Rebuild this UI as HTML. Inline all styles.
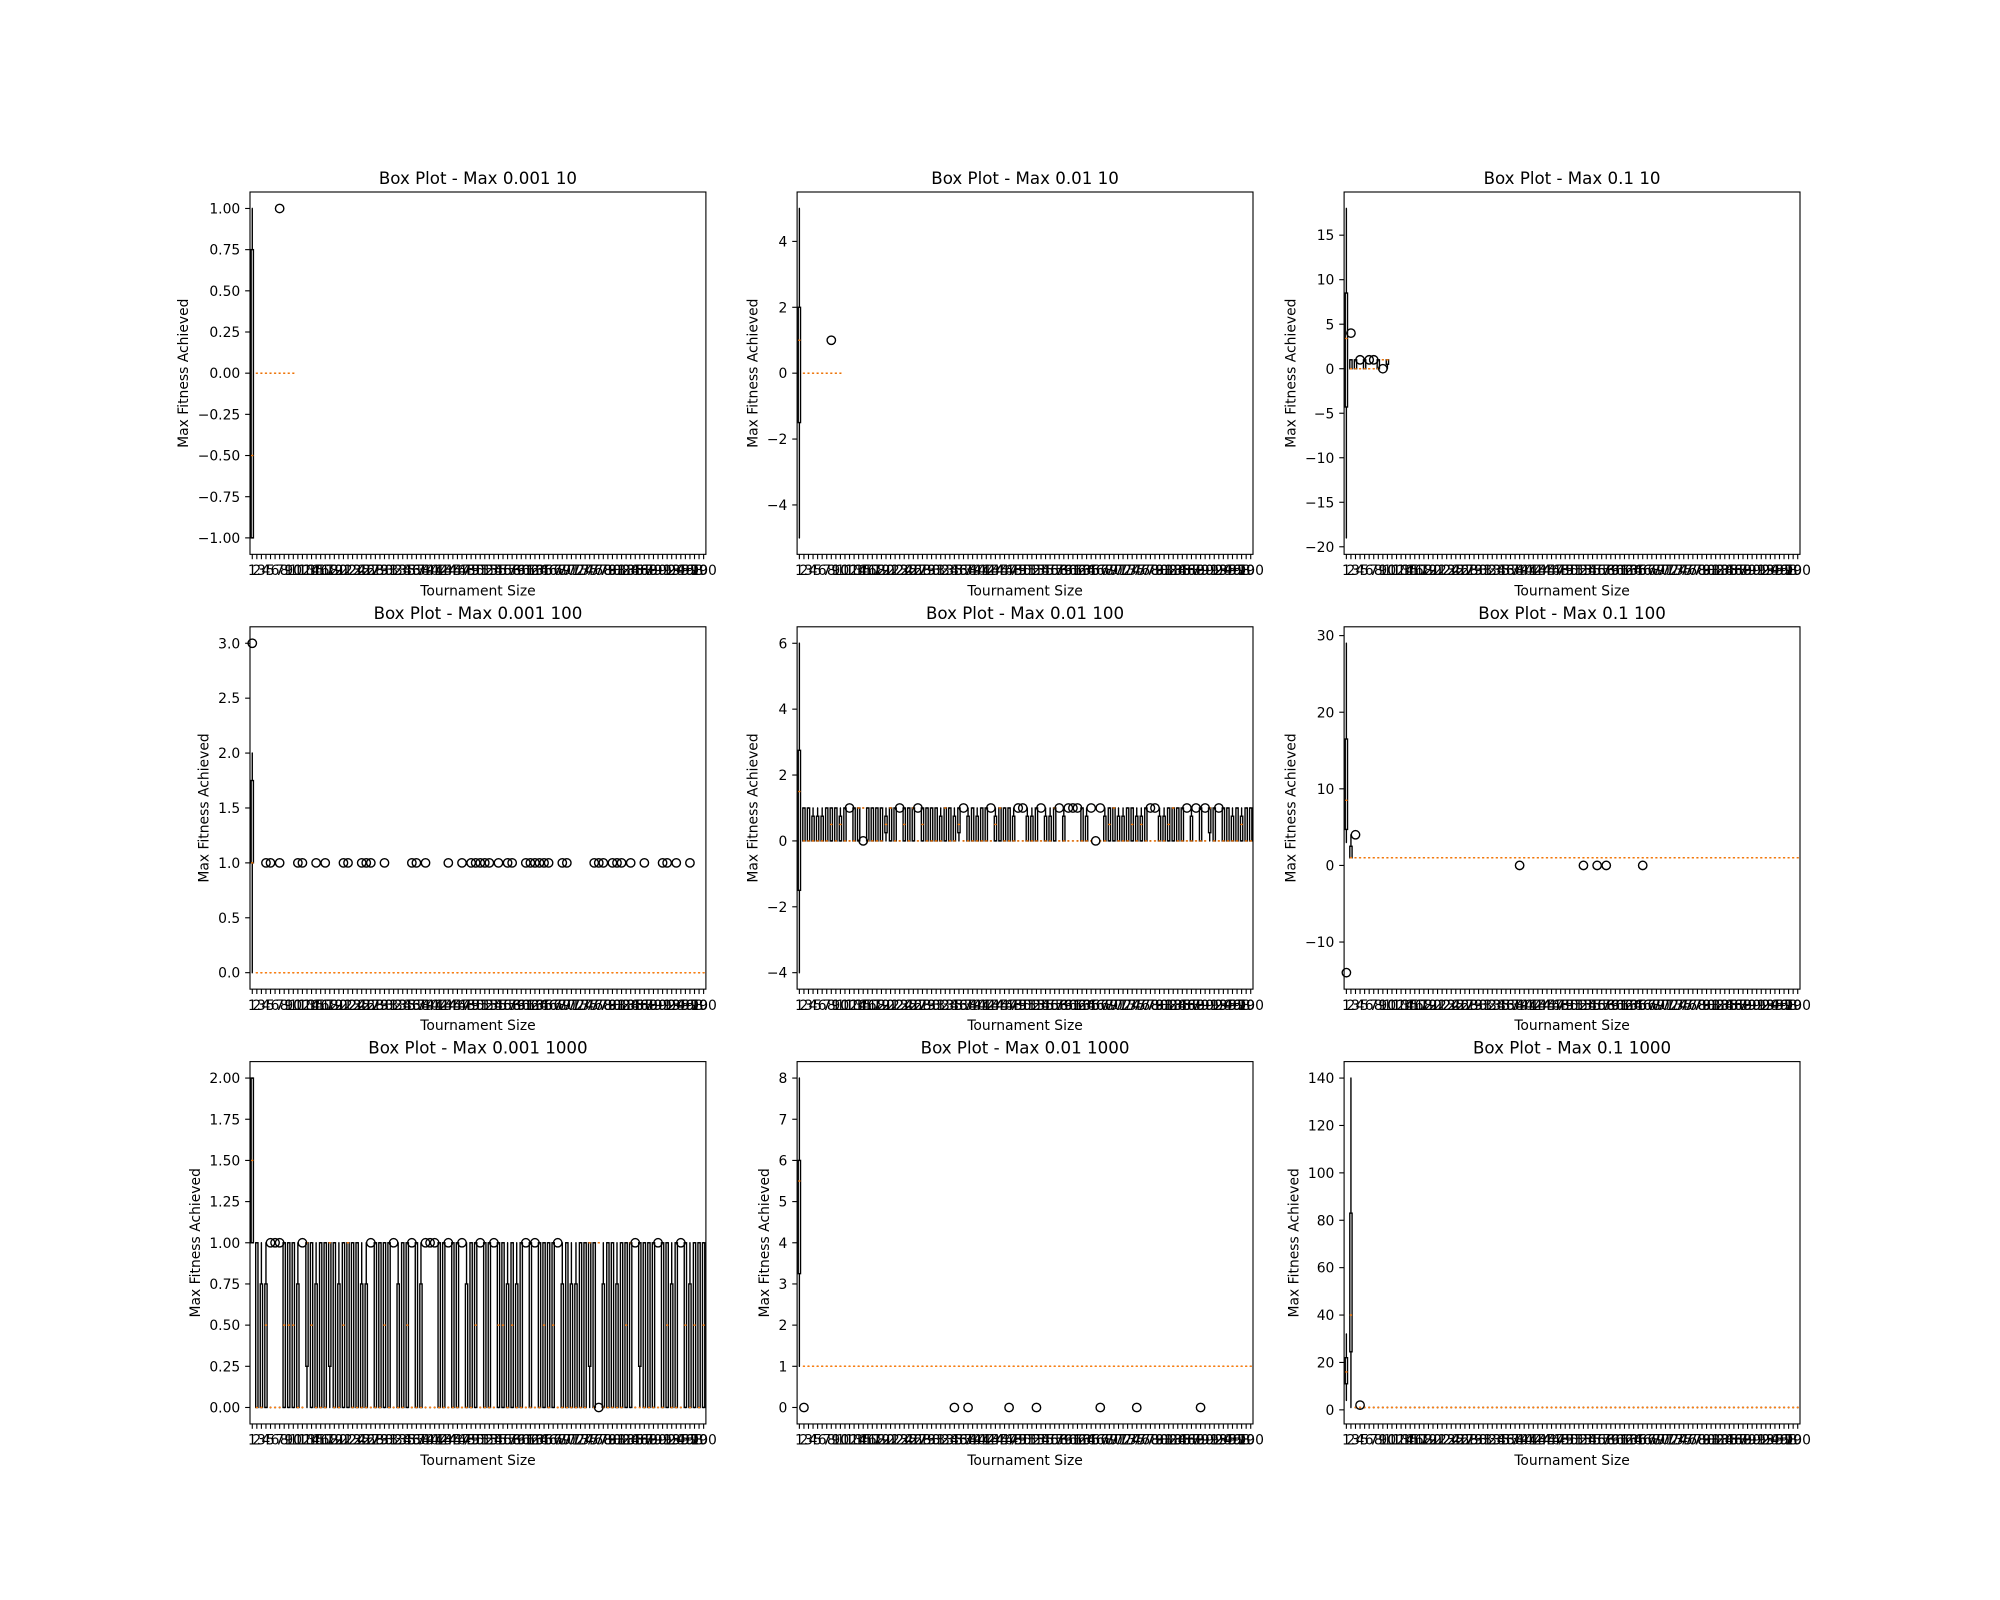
<!DOCTYPE html>
<html>
<head>
<meta charset="utf-8">
<style>
html,body{margin:0;padding:0;background:#fff;}
svg{display:block;}
text{font-family:"DejaVu Sans","Liberation Sans",sans-serif;fill:#000;}
</style>
</head>
<body>
<svg id="fig" width="2000" height="1600" viewBox="0 0 2000 1600" xmlns="http://www.w3.org/2000/svg">
<rect x="0" y="0" width="2000" height="1600" fill="#fff"/>
</svg>
<script>
// ---------- Panel 1: Max 0.001 10 ----------
const p1Lo  = [-1,0,0,0,0,0,0,0,0,0];
const p1Q1  = [-1,0,0,0,0,0,0,0,0,0];
const p1Med = [-0.5,0,0,0,0,0,0,0,0,0];
const p1Q3  = [0.75,0,0,0,0,0,0,0,0,0];
const p1Hi  = [1,0,0,0,0,0,0,0,0,0];
const p1FlierPos = [7];
const p1FlierVal = [1];
const p1Ticks = [-1,-0.75,-0.5,-0.25,0,0.25,0.5,0.75,1];
const p1TickLabels = ["\u22121.00","\u22120.75","\u22120.50","\u22120.25","0.00","0.25","0.50","0.75","1.00"];

// ---------- Panel 2: Max 0.01 10 ----------
const p2Lo  = [-5,0,0,0,0,0,0,0,0,0];
const p2Q1  = [-1.5,0,0,0,0,0,0,0,0,0];
const p2Med = [1,0,0,0,0,0,0,0,0,0];
const p2Q3  = [2,0,0,0,0,0,0,0,0,0];
const p2Hi  = [5,0,0,0,0,0,0,0,0,0];
const p2FlierPos = [8];
const p2FlierVal = [1];
const p2Ticks = [-4,-2,0,2,4];
const p2TickLabels = ["\u22124","\u22122","0","2","4"];

// ---------- Panel 3: Max 0.1 10 ----------
const p3Lo  = [-19,0,0,0,0,0,0,0,1,0];
const p3Q1  = [-4.3,0,0,0,0,0,0,0,1,0.5];
const p3Med = [3.4,0,0,0,0,0,0,0,1,1];
const p3Q3  = [8.5,1,1,0,1,0,0,1,1,1];
const p3Hi  = [18,1,1,0,1,0,0,1,1,1];
const p3FlierPos = [2,4,6,7,9];
const p3FlierVal = [4,1,1,1,0];
const p3Ticks = [-20,-15,-10,-5,0,5,10,15];
const p3TickLabels = ["\u221220","\u221215","\u221210","\u22125","0","5","10","15"];

// ---------- Panel 4: Max 0.001 100 ----------
const p4Lo  = [0,0,0,0,0,0,0,0,0,0, 0,0,0,0,0,0,0,0,0,0, 0,0,0,0,0,0,0,0,0,0, 0,0,0,0,0,0,0,0,0,0, 0,0,0,0,0,0,0,0,0,0,
               0,0,0,0,0,0,0,0,0,0, 0,0,0,0,0,0,0,0,0,0, 0,0,0,0,0,0,0,0,0,0, 0,0,0,0,0,0,0,0,0,0, 0,0,0,0,0,0,0,0,0,0];
const p4Q1  = [1,0,0,0,0,0,0,0,0,0, 0,0,0,0,0,0,0,0,0,0, 0,0,0,0,0,0,0,0,0,0, 0,0,0,0,0,0,0,0,0,0, 0,0,0,0,0,0,0,0,0,0,
               0,0,0,0,0,0,0,0,0,0, 0,0,0,0,0,0,0,0,0,0, 0,0,0,0,0,0,0,0,0,0, 0,0,0,0,0,0,0,0,0,0, 0,0,0,0,0,0,0,0,0,0];
const p4Med = [1,0,0,0,0,0,0,0,0,0, 0,0,0,0,0,0,0,0,0,0, 0,0,0,0,0,0,0,0,0,0, 0,0,0,0,0,0,0,0,0,0, 0,0,0,0,0,0,0,0,0,0,
               0,0,0,0,0,0,0,0,0,0, 0,0,0,0,0,0,0,0,0,0, 0,0,0,0,0,0,0,0,0,0, 0,0,0,0,0,0,0,0,0,0, 0,0,0,0,0,0,0,0,0,0];
const p4Q3  = [1.75,0,0,0,0,0,0,0,0,0, 0,0,0,0,0,0,0,0,0,0, 0,0,0,0,0,0,0,0,0,0, 0,0,0,0,0,0,0,0,0,0, 0,0,0,0,0,0,0,0,0,0,
               0,0,0,0,0,0,0,0,0,0, 0,0,0,0,0,0,0,0,0,0, 0,0,0,0,0,0,0,0,0,0, 0,0,0,0,0,0,0,0,0,0, 0,0,0,0,0,0,0,0,0,0];
const p4Hi  = [2,0,0,0,0,0,0,0,0,0, 0,0,0,0,0,0,0,0,0,0, 0,0,0,0,0,0,0,0,0,0, 0,0,0,0,0,0,0,0,0,0, 0,0,0,0,0,0,0,0,0,0,
               0,0,0,0,0,0,0,0,0,0, 0,0,0,0,0,0,0,0,0,0, 0,0,0,0,0,0,0,0,0,0, 0,0,0,0,0,0,0,0,0,0, 0,0,0,0,0,0,0,0,0,0];
const p4FlierPos = [1,4,5,7,11,12,15,17,21,22,25,26,27,30,36,37,39,44,47,49,50,51,52,53,55,57,58,61,62,63,64,65,66,69,70,76,77,78,80,81,82,84,87,91,92,94,97];
const p4FlierVal = [3,1,1,1,1,1,1,1,1,1,1,1,1,1,1,1,1,1,1,1,1,1,1,1,1,1,1,1,1,1,1,1,1,1,1,1,1,1,1,1,1,1,1,1,1,1,1];
const p4Ticks = [0,0.5,1,1.5,2,2.5,3];
const p4TickLabels = ["0.0","0.5","1.0","1.5","2.0","2.5","3.0"];

// ---------- Panel 5: Max 0.01 100 ----------
const p5Lo  = [-4,0,0,0,0,0,0,0,0,0, 0,0,0,0,1,0,0,0,0,0, 0,0,0,0,0,0,0,0,0,0, 0,0,0,0,0,0,0,0,0,0, 0,0,0,0,0,0,0,0,0,0,
               0,0,0,0,0,0,0,0,0,0, 0,0,0,0,0,1,0,0,0,0, 0,0,0,0,0,0,0,0,0,0, 0,0,0,0,0,0,0,0,0,0, 0,0,0,0,0,0,0,0,0,0];
const p5Q1  = [-1.5,0,0,0,0,0,0,0,0,0, 0,0,0,0,1,0,0,0,0,0.25, 0,0,0,0,0,0,0,0,0,0, 0,0,0,0,0,0.25,0,0,0,0, 0,0,0,0,0,0,0,0,0,0,
               0,0,0,0,0,0,0,0,0,0, 0,0,0,0,0,1,0,0,0,0, 0,0,0,0,0,0,0,0,0,0, 0,0,0,0,0,0,0,0,0,0, 0.25,0,0,0,0,0,0,0,0,0];
const p5Med = [1.5,0,0,0,0,0,0,0.5,0,0.5, 0,0,0,1,1,0,0,0,0,0.5, 1,0,0,0.5,0,1,0,0.5,0,0, 0,0,1,0,0,0.5,0,0,0,0, 0,0,0,0.5,1,0,0,0,0,0,
               0,0,0,0,0,0,1,0,0,0, 0,0,0,0,0,1,0,0,0.5,1, 0,0,0,0.5,0,0.5,0,0,0,0, 0,0.5,1,0,0,0,0,0,0,0, 1,0,0,0,0,0,0,0.5,0,0];
const p5Q3  = [2.75,1,1,0.75,0.75,0.75,1,1,1,0.75, 1,0,1,1,1,1,1,1,1,0.75, 1,1,0,1,1,1,0,1,1,1, 1,0.75,1,1,0.75,1,0,0.75,1,0.75, 1,1,0,0.75,1,1,1,0.75,0,0,
               0.75,0.75,1,0,0.75,0.75,1,0,0.75,0, 0,0,1,0.75,0,1,0,0.75,1,1, 0.75,0.75,1,1,0.75,0.75,1,0,0,0.75, 0.75,1,1,1,1,0,0.75,0,1,0, 1,1,0,1,1,0.75,1,0.75,1,1];
const p5Hi  = [6,1,1,1,1,1,1,1,1,1, 1,0,1,1,1,1,1,1,1,1, 1,1,0,1,1,1,0,1,1,1, 1,1,1,1,1,1,0,1,1,1, 1,1,0,1,1,1,1,1,0,0,
               1,1,1,0,1,1,1,0,1,0, 0,0,1,1,0,1,0,1,1,1, 1,1,1,1,1,1,1,0,0,1, 1,1,1,1,1,0,1,0,1,0, 1,1,0,1,1,1,1,1,1,1];
const p5FlierPos = [12,15,23,27,37,43,49,50,54,58,60,61,62,65,66,67,78,79,86,88,90,93];
const p5FlierVal = [1,0,1,1,1,1,1,1,1,1,1,1,1,1,0,1,1,1,1,1,1,1];
const p5Ticks = [-4,-2,0,2,4,6];
const p5TickLabels = ["\u22124","\u22122","0","2","4","6"];

// ---------- Panel 6: Max 0.1 100 ----------
const p6Lo  = [3,1,1,1,1,1,1,1,1,1, 1,1,1,1,1,1,1,1,1,1, 1,1,1,1,1,1,1,1,1,1, 1,1,1,1,1,1,1,1,1,1, 1,1,1,1,1,1,1,1,1,1,
               1,1,1,1,1,1,1,1,1,1, 1,1,1,1,1,1,1,1,1,1, 1,1,1,1,1,1,1,1,1,1, 1,1,1,1,1,1,1,1,1,1, 1,1,1,1,1,1,1,1,1,1];
const p6Q1  = [4.7,1,1,1,1,1,1,1,1,1, 1,1,1,1,1,1,1,1,1,1, 1,1,1,1,1,1,1,1,1,1, 1,1,1,1,1,1,1,1,1,1, 1,1,1,1,1,1,1,1,1,1,
               1,1,1,1,1,1,1,1,1,1, 1,1,1,1,1,1,1,1,1,1, 1,1,1,1,1,1,1,1,1,1, 1,1,1,1,1,1,1,1,1,1, 1,1,1,1,1,1,1,1,1,1];
const p6Med = [8.5,1,1,1,1,1,1,1,1,1, 1,1,1,1,1,1,1,1,1,1, 1,1,1,1,1,1,1,1,1,1, 1,1,1,1,1,1,1,1,1,1, 1,1,1,1,1,1,1,1,1,1,
               1,1,1,1,1,1,1,1,1,1, 1,1,1,1,1,1,1,1,1,1, 1,1,1,1,1,1,1,1,1,1, 1,1,1,1,1,1,1,1,1,1, 1,1,1,1,1,1,1,1,1,1];
const p6Q3  = [16.5,2.5,1,1,1,1,1,1,1,1, 1,1,1,1,1,1,1,1,1,1, 1,1,1,1,1,1,1,1,1,1, 1,1,1,1,1,1,1,1,1,1, 1,1,1,1,1,1,1,1,1,1,
               1,1,1,1,1,1,1,1,1,1, 1,1,1,1,1,1,1,1,1,1, 1,1,1,1,1,1,1,1,1,1, 1,1,1,1,1,1,1,1,1,1, 1,1,1,1,1,1,1,1,1,1];
const p6Hi  = [29,4,1,1,1,1,1,1,1,1, 1,1,1,1,1,1,1,1,1,1, 1,1,1,1,1,1,1,1,1,1, 1,1,1,1,1,1,1,1,1,1, 1,1,1,1,1,1,1,1,1,1,
               1,1,1,1,1,1,1,1,1,1, 1,1,1,1,1,1,1,1,1,1, 1,1,1,1,1,1,1,1,1,1, 1,1,1,1,1,1,1,1,1,1, 1,1,1,1,1,1,1,1,1,1];
const p6FlierPos = [1,3,39,53,56,58,66];
const p6FlierVal = [-14,4,0,0,0,0,0];
const p6Ticks = [-10,0,10,20,30];
const p6TickLabels = ["\u221210","0","10","20","30"];

// ---------- Panel 7: Max 0.001 1000 ----------
const p7Lo  = [1,0,0,0,0,0,0,0,0,0, 0,0,0,0,0,0,0,0,0,0, 0,0,0,0,0,0,0,0,0,0, 0,0,0,0,0,0,0,0,0,0, 0,0,0,0,0,0,0,0,0,0,
               0,0,0,0,0,0,0,0,0,0, 0,0,0,0,0,0,0,0,0,0, 0,0,0,0,0,0,1,0,0,0, 0,0,0,0,0,0,0,0,0,0, 0,0,0,0,0,0,0,0,0,0];
const p7Q1  = [1,0,0,0,0,0,0,0,0,0, 0,0,0.25,0,0,0,0,0.25,0,0, 0,0,0,0,0,0,0,0,0,0, 0,0,0,0,0,0,0,0,0,0, 0,0,0,0,0,0,0,0,0,0,
               0,0,0,0,0,0,0,0,0,0, 0,0,0,0,0,0,0,0,0,0, 0,0,0,0,0.25,0,1,0,0,0, 0,0,0,0,0,0.25,0,0,0,0, 0,0,0,0,0,0,0,0,0,0];
const p7Med = [1.5,0,0,0.5,0,0,0,0.5,0.5,0.5, 0,0,1,0.5,0,0,0,1,0,0, 0.5,1,0,0,0,0,0,0,0,0.5, 0,0,0,0,0.5,0,0,0,0,0, 0,0,0,0,0,0,0,0,0,0.5,
               0,0,0,0,0.5,0.5,0,0.5,0,0, 0,0,0,0,0.5,0,0.5,0,0,0, 0,0,0,0,1,0,1,0,0,0, 0,0,0.5,1,0,0,0,0,0,0, 0,0.5,0,0,0,0.5,0,0.5,0,0.5];
const p7Q3  = [2,1,0.75,0.75,0,0,0,1,1,1, 0.75,0,1,1,0.75,1,1,1,1,0.75, 1,1,1,1,0.75,0.75,0,1,1,1, 1,0,0.75,1,1,0,1,0.75,0,0, 0,1,1,0,1,1,0,0.75,1,1,
               0,1,1,0,1,1,0.75,1,0.75,1, 0,1,0,1,1,1,1,0,0.75,1, 0.75,0.75,1,1,1,1,1,0.75,1,1, 0.75,1,1,1,0,1,1,1,1,0, 1,1,0.75,1,0,1,0.75,1,1,1];
const p7Hi  = [2,1,1,1,0,0,0,1,1,1, 1,0,1,1,1,1,1,1,1,1, 1,1,1,1,1,1,0,1,1,1, 1,0,1,1,1,0,1,1,0,0, 0,1,1,0,1,1,0,1,1,1,
               0,1,1,0,1,1,1,1,1,1, 0,1,0,1,1,1,1,0,1,1, 1,1,1,1,1,1,1,1,1,1, 1,1,1,1,0,1,1,1,1,0, 1,1,1,1,0,1,1,1,1,1];
const p7FlierPos = [5,6,7,12,27,32,36,39,40,41,44,47,51,54,61,63,68,77,85,90,95];
const p7FlierVal = [1,1,1,1,1,1,1,1,1,1,1,1,1,1,1,1,1,0,1,1,1];
const p7Ticks = [0,0.25,0.5,0.75,1,1.25,1.5,1.75,2];
const p7TickLabels = ["0.00","0.25","0.50","0.75","1.00","1.25","1.50","1.75","2.00"];

// ---------- Panel 8: Max 0.01 1000 ----------
const p8Lo  = [1,1,1,1,1,1,1,1,1,1, 1,1,1,1,1,1,1,1,1,1, 1,1,1,1,1,1,1,1,1,1, 1,1,1,1,1,1,1,1,1,1, 1,1,1,1,1,1,1,1,1,1,
               1,1,1,1,1,1,1,1,1,1, 1,1,1,1,1,1,1,1,1,1, 1,1,1,1,1,1,1,1,1,1, 1,1,1,1,1,1,1,1,1,1, 1,1,1,1,1,1,1,1,1,1];
const p8Q1  = [3.25,1,1,1,1,1,1,1,1,1, 1,1,1,1,1,1,1,1,1,1, 1,1,1,1,1,1,1,1,1,1, 1,1,1,1,1,1,1,1,1,1, 1,1,1,1,1,1,1,1,1,1,
               1,1,1,1,1,1,1,1,1,1, 1,1,1,1,1,1,1,1,1,1, 1,1,1,1,1,1,1,1,1,1, 1,1,1,1,1,1,1,1,1,1, 1,1,1,1,1,1,1,1,1,1];
const p8Med = [5.5,1,1,1,1,1,1,1,1,1, 1,1,1,1,1,1,1,1,1,1, 1,1,1,1,1,1,1,1,1,1, 1,1,1,1,1,1,1,1,1,1, 1,1,1,1,1,1,1,1,1,1,
               1,1,1,1,1,1,1,1,1,1, 1,1,1,1,1,1,1,1,1,1, 1,1,1,1,1,1,1,1,1,1, 1,1,1,1,1,1,1,1,1,1, 1,1,1,1,1,1,1,1,1,1];
const p8Q3  = [6,1,1,1,1,1,1,1,1,1, 1,1,1,1,1,1,1,1,1,1, 1,1,1,1,1,1,1,1,1,1, 1,1,1,1,1,1,1,1,1,1, 1,1,1,1,1,1,1,1,1,1,
               1,1,1,1,1,1,1,1,1,1, 1,1,1,1,1,1,1,1,1,1, 1,1,1,1,1,1,1,1,1,1, 1,1,1,1,1,1,1,1,1,1, 1,1,1,1,1,1,1,1,1,1];
const p8Hi  = [8,1,1,1,1,1,1,1,1,1, 1,1,1,1,1,1,1,1,1,1, 1,1,1,1,1,1,1,1,1,1, 1,1,1,1,1,1,1,1,1,1, 1,1,1,1,1,1,1,1,1,1,
               1,1,1,1,1,1,1,1,1,1, 1,1,1,1,1,1,1,1,1,1, 1,1,1,1,1,1,1,1,1,1, 1,1,1,1,1,1,1,1,1,1, 1,1,1,1,1,1,1,1,1,1];
const p8FlierPos = [2,35,38,47,53,67,75,89];
const p8FlierVal = [0,0,0,0,0,0,0,0];
const p8Ticks = [0,1,2,3,4,5,6,7,8];
const p8TickLabels = ["0","1","2","3","4","5","6","7","8"];

// ---------- Panel 9: Max 0.1 1000 ----------
const p9Lo  = [4,1,1,1,1,1,1,1,1,1, 1,1,1,1,1,1,1,1,1,1, 1,1,1,1,1,1,1,1,1,1, 1,1,1,1,1,1,1,1,1,1, 1,1,1,1,1,1,1,1,1,1,
               1,1,1,1,1,1,1,1,1,1, 1,1,1,1,1,1,1,1,1,1, 1,1,1,1,1,1,1,1,1,1, 1,1,1,1,1,1,1,1,1,1, 1,1,1,1,1,1,1,1,1,1];
const p9Q1  = [11,24.5,1,1,1,1,1,1,1,1, 1,1,1,1,1,1,1,1,1,1, 1,1,1,1,1,1,1,1,1,1, 1,1,1,1,1,1,1,1,1,1, 1,1,1,1,1,1,1,1,1,1,
               1,1,1,1,1,1,1,1,1,1, 1,1,1,1,1,1,1,1,1,1, 1,1,1,1,1,1,1,1,1,1, 1,1,1,1,1,1,1,1,1,1, 1,1,1,1,1,1,1,1,1,1];
const p9Med = [16,40,1,1,1,1,1,1,1,1, 1,1,1,1,1,1,1,1,1,1, 1,1,1,1,1,1,1,1,1,1, 1,1,1,1,1,1,1,1,1,1, 1,1,1,1,1,1,1,1,1,1,
               1,1,1,1,1,1,1,1,1,1, 1,1,1,1,1,1,1,1,1,1, 1,1,1,1,1,1,1,1,1,1, 1,1,1,1,1,1,1,1,1,1, 1,1,1,1,1,1,1,1,1,1];
const p9Q3  = [22,83,1,1,1,1,1,1,1,1, 1,1,1,1,1,1,1,1,1,1, 1,1,1,1,1,1,1,1,1,1, 1,1,1,1,1,1,1,1,1,1, 1,1,1,1,1,1,1,1,1,1,
               1,1,1,1,1,1,1,1,1,1, 1,1,1,1,1,1,1,1,1,1, 1,1,1,1,1,1,1,1,1,1, 1,1,1,1,1,1,1,1,1,1, 1,1,1,1,1,1,1,1,1,1];
const p9Hi  = [32,140,1,1,1,1,1,1,1,1, 1,1,1,1,1,1,1,1,1,1, 1,1,1,1,1,1,1,1,1,1, 1,1,1,1,1,1,1,1,1,1, 1,1,1,1,1,1,1,1,1,1,
               1,1,1,1,1,1,1,1,1,1, 1,1,1,1,1,1,1,1,1,1, 1,1,1,1,1,1,1,1,1,1, 1,1,1,1,1,1,1,1,1,1, 1,1,1,1,1,1,1,1,1,1];
const p9FlierPos = [4];
const p9FlierVal = [2];
const p9Ticks = [0,20,40,60,80,100,120,140];
const p9TickLabels = ["0","20","40","60","80","100","120","140"];

const panelTitles = ["Box Plot - Max 0.001 10","Box Plot - Max 0.01 10","Box Plot - Max 0.1 10",
                     "Box Plot - Max 0.001 100","Box Plot - Max 0.01 100","Box Plot - Max 0.1 100",
                     "Box Plot - Max 0.001 1000","Box Plot - Max 0.01 1000","Box Plot - Max 0.1 1000"];
const nCategories = 100;

const PANELS = [
 {lo:p1Lo,q1:p1Q1,med:p1Med,q3:p1Q3,hi:p1Hi,fp:p1FlierPos,fv:p1FlierVal,ticks:p1Ticks,tl:p1TickLabels},
 {lo:p2Lo,q1:p2Q1,med:p2Med,q3:p2Q3,hi:p2Hi,fp:p2FlierPos,fv:p2FlierVal,ticks:p2Ticks,tl:p2TickLabels},
 {lo:p3Lo,q1:p3Q1,med:p3Med,q3:p3Q3,hi:p3Hi,fp:p3FlierPos,fv:p3FlierVal,ticks:p3Ticks,tl:p3TickLabels},
 {lo:p4Lo,q1:p4Q1,med:p4Med,q3:p4Q3,hi:p4Hi,fp:p4FlierPos,fv:p4FlierVal,ticks:p4Ticks,tl:p4TickLabels},
 {lo:p5Lo,q1:p5Q1,med:p5Med,q3:p5Q3,hi:p5Hi,fp:p5FlierPos,fv:p5FlierVal,ticks:p5Ticks,tl:p5TickLabels},
 {lo:p6Lo,q1:p6Q1,med:p6Med,q3:p6Q3,hi:p6Hi,fp:p6FlierPos,fv:p6FlierVal,ticks:p6Ticks,tl:p6TickLabels},
 {lo:p7Lo,q1:p7Q1,med:p7Med,q3:p7Q3,hi:p7Hi,fp:p7FlierPos,fv:p7FlierVal,ticks:p7Ticks,tl:p7TickLabels},
 {lo:p8Lo,q1:p8Q1,med:p8Med,q3:p8Q3,hi:p8Hi,fp:p8FlierPos,fv:p8FlierVal,ticks:p8Ticks,tl:p8TickLabels},
 {lo:p9Lo,q1:p9Q1,med:p9Med,q3:p9Q3,hi:p9Hi,fp:p9FlierPos,fv:p9FlierVal,ticks:p9Ticks,tl:p9TickLabels}
];

const NS = "http://www.w3.org/2000/svg";
const svg = document.getElementById("fig");
const AXW = 455.9, AXH = 362.35;
const colX = [250, 797.1, 1344.1];
const rowY = [192, 626.8, 1061.6];
const LW = 1.39, SPW = 1.11, TICKLEN = 4.86, FS = 13.9;

function mk(tag, attrs, parent) {
  const e = document.createElementNS(NS, tag);
  for (const k in attrs) e.setAttribute(k, attrs[k]);
  parent.appendChild(e);
  return e;
}

PANELS.forEach((P, pi) => {
  const left = colX[pi % 3], top = rowY[Math.floor(pi / 3)];
  const bottom = top + AXH;
  const g = mk("g", {}, svg);
  
  

  let vmin = Infinity, vmax = -Infinity;
  for (let i = 0; i < P.lo.length; i++) {
    vmin = Math.min(vmin, P.lo[i], P.q1[i]); vmax = Math.max(vmax, P.hi[i], P.q3[i]);
  }
  P.fv.forEach(v => { vmin = Math.min(vmin, v); vmax = Math.max(vmax, v); });
  const pad = (vmax - vmin) * 0.05;
  const y0 = vmin - pad, y1 = vmax + pad;
  const xS = p => left + (p - 0.5) / nCategories * AXW;
  const yS = v => bottom - (v - y0) / (y1 - y0) * AXH;

  const plot = mk("g", {}, g);
  
  
  const bw = 0.5 / nCategories * AXW;
  const cw = 0.25 / nCategories * AXW;
  for (let i = 0; i < P.lo.length; i++) {
    const pos = i + 1, cx = xS(pos);
    const bg = mk("g", {}, plot);
    
    
    const yl = yS(P.lo[i]), yq1 = yS(P.q1[i]), ym = yS(P.med[i]), yq3 = yS(P.q3[i]), yh = yS(P.hi[i]);
    mk("line", {x1:cx,y1:yl,x2:cx,y2:yq1,stroke:"#000","stroke-width":LW}, bg);
    mk("line", {x1:cx,y1:yq3,x2:cx,y2:yh,stroke:"#000","stroke-width":LW}, bg);
    mk("line", {x1:cx-cw/2,y1:yl,x2:cx+cw/2,y2:yl,stroke:"#000","stroke-width":LW}, bg);
    mk("line", {x1:cx-cw/2,y1:yh,x2:cx+cw/2,y2:yh,stroke:"#000","stroke-width":LW}, bg);
    mk("rect", {x:cx-bw/2,y:Math.min(yq1,yq3),width:bw,height:Math.abs(yq1-yq3),fill:"none",stroke:"#000","stroke-width":LW}, bg);
    mk("line", {x1:cx-bw/2,y1:ym,x2:cx+bw/2,y2:ym,stroke:"#ff7f0e","stroke-width":LW}, bg);
  }
  for (let k = 0; k < P.fp.length; k++) {
    const c = mk("circle", {cx:xS(P.fp[k]), cy:yS(P.fv[k]), r:4.2, fill:"none", stroke:"#000", "stroke-width":LW}, plot);
    
    
  }

  const sp = mk("rect", {x:left,y:top,width:AXW,height:AXH,fill:"none",stroke:"#000","stroke-width":SPW}, g);
  
  

  const xt = mk("g", {}, g);
  
  
  for (let c = 1; c <= nCategories; c++) {
    const x = xS(c);
    mk("line", {x1:x,y1:bottom,x2:x,y2:bottom+TICKLEN,stroke:"#000","stroke-width":SPW}, xt);
    const t = mk("text", {x:x,y:bottom+20.6,"text-anchor":"middle","font-size":FS}, xt);
    t.textContent = String(c);
  }
  const yt = mk("g", {}, g);
  
  
  let maxW = 0;
  P.ticks.forEach((v, k) => {
    const y = yS(v);
    mk("line", {x1:left-TICKLEN,y1:y,x2:left,y2:y,stroke:"#000","stroke-width":SPW}, yt);
    const t = mk("text", {x:left-9.72,y:y+5.05,"text-anchor":"end","font-size":FS}, yt);
    t.textContent = P.tl[k];
    maxW = Math.max(maxW, t.getComputedTextLength());
  });

  const title = mk("text", {x:left+AXW/2,y:top-8,"text-anchor":"middle","font-size":16.67}, g);
  
  
  title.textContent = panelTitles[pi];

  const xl = mk("text", {x:left+AXW/2,y:bottom+41,"text-anchor":"middle","font-size":FS}, g);
  
  
  xl.textContent = "Tournament Size";

  const ylx = left - 9.72 - maxW - 5.56 - 8;
  const yly = top + AXH/2;
  const yl = mk("text", {x:ylx,y:yly,"text-anchor":"middle","dominant-baseline":"central","font-size":FS,transform:"rotate(-90 "+ylx+" "+yly+")"}, g);
  
  
  yl.textContent = "Max Fitness Achieved";
});
</script>
</body>
</html>
